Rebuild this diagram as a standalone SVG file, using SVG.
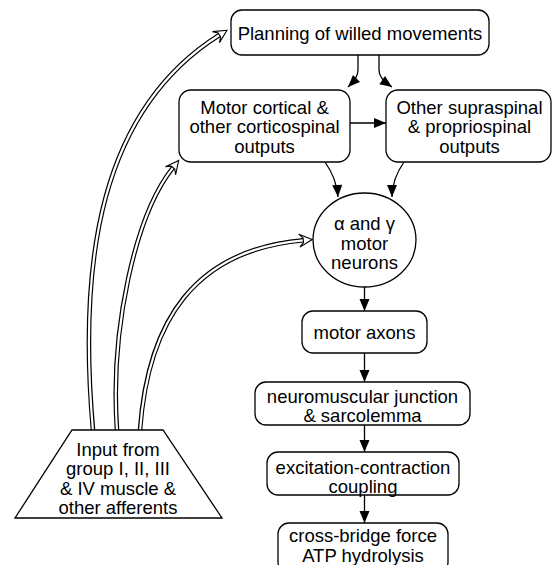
<svg xmlns="http://www.w3.org/2000/svg" width="558" height="565" viewBox="0 0 558 565">
<style>
.box{fill:#fff;stroke:#000;stroke-width:1.3}
.t{font-family:"Liberation Sans",Arial,sans-serif;font-size:18.5px;fill:#000;text-anchor:middle}
.ln{fill:none;stroke:#000;stroke-width:1.3}
.dbo{fill:none;stroke:#000;stroke-width:4.6}
.dbi{fill:none;stroke:#fff;stroke-width:2.2}
</style>
<defs>
<marker id="ah" markerUnits="userSpaceOnUse" orient="auto" refX="0" refY="0" markerWidth="30" markerHeight="30" overflow="visible">
<path d="M0,0 L-12,-5 L-12,5 Z" fill="#000"/>
</marker>
<marker id="hh" markerUnits="userSpaceOnUse" orient="auto" refX="0" refY="0" markerWidth="40" markerHeight="40" overflow="visible">
<path d="M9,0 L-4,-6.5 L0,-2.3 L0,2.3 L-4,6.5 Z" fill="#fff" stroke="#000" stroke-width="1.1" stroke-linejoin="miter"/>
</marker>
</defs>
<rect width="558" height="565" fill="#fff"/>
<g id="connectors">
<path class="ln" d="M358,55 V70 C358,76 355,80 348,87" marker-end="url(#ah)"/>
<path class="ln" d="M379,55 V70 C379,76 382,80 392,87" marker-end="url(#ah)"/>
<path class="ln" d="M350,123 H386" marker-end="url(#ah)"/>
<path class="ln" d="M325,162 C332,172 337,182 338,197" marker-end="url(#ah)"/>
<path class="ln" d="M404,162 C397,172 392,182 392,197" marker-end="url(#ah)"/>
<path class="ln" d="M364.5,287 V311" marker-end="url(#ah)"/>
<path class="ln" d="M364.5,353 V382" marker-end="url(#ah)"/>
<path class="ln" d="M364.5,425 V452" marker-end="url(#ah)"/>
<path class="ln" d="M364.5,495 V523" marker-end="url(#ah)"/>
<path class="dbo" d="M93,430 C78,260 100,110 219.4,35"/>
<path class="dbi" d="M93,431 C78,260 100,110 219.4,35" marker-end="url(#hh)"/>
<path class="dbo" d="M117,430 C110,330 135,215 173,167.6"/>
<path class="dbi" d="M117,431 C110,330 135,215 173,167.6" marker-end="url(#hh)"/>
<path class="dbo" d="M140,430 C148,320 195,250 303.3,240.3"/>
<path class="dbi" d="M140,431 C148,320 195,250 303.3,240.3" marker-end="url(#hh)"/>
</g>
<g id="planning">
<rect class="box" x="231" y="10" width="258" height="45" rx="11"/>
<text class="t" x="360" y="39.5">Planning of willed movements</text>
</g>
<g id="motor-cortical">
<rect class="box" x="179" y="90" width="171" height="72" rx="12"/>
<text class="t" x="264.5" y="113.5">Motor cortical &amp;</text>
<text class="t" x="264.5" y="133">other corticospinal</text>
<text class="t" x="264.5" y="152.5">outputs</text>
</g>
<g id="other-supraspinal">
<rect class="box" x="386" y="90" width="165" height="72" rx="12"/>
<text class="t" x="469.5" y="113.5">Other supraspinal</text>
<text class="t" x="469.5" y="133">&amp; propriospinal</text>
<text class="t" x="469.5" y="152.5">outputs</text>
</g>
<g id="motor-neurons">
<ellipse class="box" cx="364.5" cy="240" rx="51.5" ry="47"/>
<text class="t" x="364.5" y="229.5">α and γ</text>
<text class="t" x="364.5" y="249.5">motor</text>
<text class="t" x="364.5" y="268.5">neurons</text>
</g>
<g id="motor-axons">
<rect class="box" x="302" y="311" width="125" height="42" rx="11"/>
<text class="t" x="364.5" y="339">motor axons</text>
</g>
<g id="nmj">
<rect class="box" x="255" y="382" width="215" height="43" rx="11"/>
<text class="t" x="362.5" y="402.5">neuromuscular junction</text>
<text class="t" x="362.5" y="421.5">&amp; sarcolemma</text>
</g>
<g id="ec-coupling">
<rect class="box" x="267" y="452" width="192" height="43" rx="11"/>
<text class="t" x="363" y="473.5">excitation-contraction</text>
<text class="t" x="363" y="492.5">coupling</text>
</g>
<g id="cross-bridge">
<rect class="box" x="278" y="523" width="170" height="50" rx="11"/>
<text class="t" x="363" y="542">cross-bridge force</text>
<text class="t" x="363" y="562">ATP hydrolysis</text>
</g>
<g id="input">
<polygon class="box" points="72,430 163,430 222,518 15,518"/>
<text class="t" x="118" y="455.5">Input from</text>
<text class="t" x="118" y="475">group I, II, III</text>
<text class="t" x="118" y="494.5">&amp; IV muscle &amp;</text>
<text class="t" x="118" y="513.5">other afferents</text>
</g>
</svg>
